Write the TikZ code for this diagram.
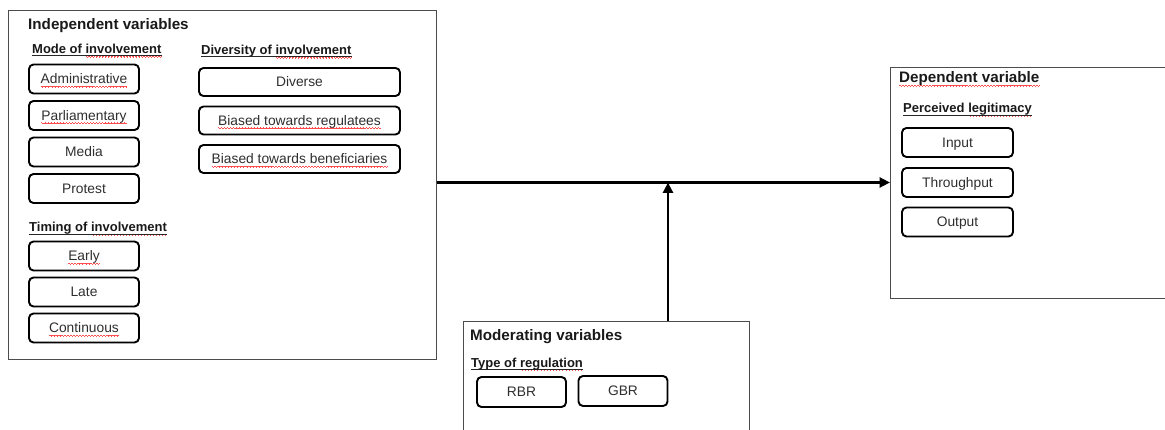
\documentclass[tikz,border=0pt]{standalone}
\usepackage{fontspec}
\setmainfont{Liberation Sans}
\usetikzlibrary{arrows.meta}

% red wavy underline, as left by a spell checker
\newcommand\wavelet{\hbox{\rule[-2.6pt]{0.75pt}{0.7pt}\rule[-3.2pt]{0.75pt}{0.7pt}%
  \rule[-3.8pt]{0.75pt}{0.7pt}\rule[-3.2pt]{0.75pt}{0.7pt}}}
\newcommand\sq[1]{\setbox0\hbox{#1}%
  \rlap{\hbox to \wd0{\color{red!70}\xleaders\wavelet\hfil}}\box0}

\begin{document}
\begin{tikzpicture}[x=1pt,y=-1pt,
  frame/.style={draw=black!70, line width=0.9pt, anchor=north west, inner sep=0pt},
  item/.style={draw=black, line width=1.9pt, rounded corners=4.5pt, inner sep=0pt,
    text=black!82, font=\fontsize{13.8}{15}\selectfont, text height=9.6pt, text depth=0pt},
  head/.style={anchor=base west, inner sep=0pt, text=black!90,
    font=\fontsize{15.2}{17}\selectfont\bfseries},
  sub/.style={anchor=base west, inner sep=0pt, text=black!90,
    font=\fontsize{13}{15}\selectfont\bfseries},
  ul/.style={line width=0.9pt, black!85},
  flow/.style={line width=2.9pt, -{Triangle[length=10.5pt,width=10pt]}}]

\useasboundingbox (0,0) rectangle (1165,430);

% ---- frames ----
\node[frame, minimum width=428pt, minimum height=349pt] (indep) at (8,10) {};
\node[frame, minimum width=286pt, minimum height=130pt] (mod) at (463,321) {};
\node[frame, minimum width=285pt, minimum height=231pt] (dep) at (890,67) {};

% ---- independent variables ----
\node[head] (indephead) at (28,29.3) {Independent variables};

\node[sub] (mode) at (32,53.5) {Mode of \sq{involvement}};
\draw[ul] ([yshift=-2.2pt]mode.base west) -- ([yshift=-2.2pt]mode.base east);
\node[sub] (div) at (201,54.5) {Diversity of \sq{involvement}};
\draw[ul] ([yshift=-2.2pt]div.base west) -- ([yshift=-2.2pt]div.base east);
\node[sub] (timing) at (29,232) {Timing of \sq{involvement}};
\draw[ul] ([yshift=-2.2pt]timing.base west) -- ([yshift=-2.2pt]timing.base east);

\begin{scope}[every node/.append style={item, minimum width=110pt, minimum height=29pt}]
  \node (adm)   at (84,79)    {\sq{Administrative}};
  \node (parl)  at (84,115.5) {\sq{Parliamentary}};
  \node (media) at (84,152)   {Media};
  \node (prot)  at (84,188.5) {Protest};
  \node (early) at (84,256)   {\sq{Early}};
  \node (late)  at (84,292)   {Late};
  \node (cont)  at (84,328)   {\sq{Continuous}};
\end{scope}

\begin{scope}[every node/.append style={item, minimum width=201pt, minimum height=28pt}]
  \node (diverse) at (299.5,82)    {Diverse};
  \node (breg)    at (299.5,120.5) {\sq{Biased towards regulatees}};
  \node (bben)    at (299.5,159)   {\sq{Biased towards beneficiaries}};
\end{scope}

% ---- moderating variables ----
\node[head] (modhead) at (470,340.7) {Moderating variables};
\node[sub] (type) at (471,367) {Type of \sq{regulation}};
\draw[ul] ([yshift=-2.2pt]type.base west) -- ([yshift=-2.2pt]type.base east);
\begin{scope}[every node/.append style={item, minimum width=89pt, minimum height=30pt}]
  \node (rbr) at (521.5,392) {RBR};
  \node (gbr) at (623,391)   {GBR};
\end{scope}

% ---- dependent variable ----
\node[head] (dephead) at (899,83) {\sq{Dependent variable}};
\node[sub] (perc) at (903,113) {Perceived \sq{legitimacy}};
\draw[ul] ([yshift=-2.2pt]perc.base west) -- ([yshift=-2.2pt]perc.base east);
\begin{scope}[every node/.append style={item, minimum width=111pt, minimum height=29pt}]
  \node (input)   at (957.5,142.5) {Input};
  \node (through) at (957.5,182.5) {Throughput};
  \node (output)  at (957.5,222)   {Output};
\end{scope}

% ---- connectors ----
\coordinate (join) at (668,182.5);
\draw[flow] (indep.east |- join) -- (dep.west |- join);
\draw[flow] (mod.north -| join) -- (join);
\end{tikzpicture}
\end{document}
